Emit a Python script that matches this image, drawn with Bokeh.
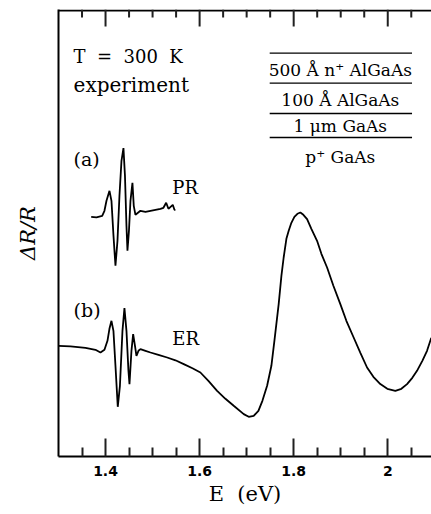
from bokeh.plotting import figure
from bokeh.models import Range1d, FixedTicker, CustomJSTickFormatter, Label
from bokeh.embed import file_html
from bokeh.resources import INLINE

# ---------------- data ----------------
# (b) electroreflectance, E in eV, dR/R in arbitrary units
er_E = [1.300, 1.3255, 1.3574, 1.3786, 1.3892, 1.3977, 1.4041, 1.4083, 1.4126, 1.4168,
        1.4211, 1.4260, 1.4306, 1.4360, 1.4402, 1.4445, 1.4487, 1.4509, 1.4551, 1.4587,
        1.4626, 1.4657, 1.4700, 1.4742, 1.4849, 1.4955, 1.5125, 1.5310, 1.5486, 1.5663,
        1.5848, 1.6017, 1.6187, 1.6372, 1.6549, 1.6725, 1.6938, 1.7044, 1.7150, 1.7250,
        1.7335, 1.7435, 1.7526, 1.7590, 1.7681, 1.7739, 1.7787, 1.7845, 1.7894, 1.7951,
        1.8015, 1.8079, 1.8142, 1.8206, 1.8285, 1.8376, 1.8497, 1.8589, 1.8710, 1.8844,
        1.8992, 1.9120, 1.9275, 1.9418, 1.9560, 1.9694, 1.9842, 1.9991, 2.0161, 2.0289,
        2.0410, 2.0522, 2.0622, 2.0735, 2.0835, 2.0926]
er_R = [1.107, 1.102, 1.087, 1.067, 1.040, 1.067, 1.157, 1.277, 1.357, 1.257,
        0.907, 0.497, 0.707, 1.257, 1.484, 1.257, 0.857, 0.724, 1.057, 1.224,
        1.107, 1.007, 1.057, 1.074, 1.057, 1.040, 1.017, 0.990, 0.962, 0.924,
        0.882, 0.840, 0.757, 0.657, 0.577, 0.507, 0.424, 0.397, 0.407, 0.457,
        0.557, 0.707, 0.907, 1.157, 1.524, 1.807, 1.990, 2.177, 2.257, 2.337,
        2.397, 2.427, 2.440, 2.417, 2.374, 2.277, 2.157, 2.027, 1.890, 1.707,
        1.524, 1.357, 1.190, 1.037, 0.890, 0.797, 0.724, 0.677, 0.657, 0.677,
        0.724, 0.787, 0.857, 0.957, 1.057, 1.187]

# (a) photoreflectance
pr_E = [1.3695, 1.3807, 1.3929, 1.3977, 1.4020, 1.4084, 1.4126, 1.4169, 1.4211, 1.4254,
        1.4296, 1.4339, 1.4381, 1.4413, 1.4445, 1.4466, 1.4498, 1.4530, 1.4572, 1.4600,
        1.4636, 1.4742, 1.4849, 1.4955, 1.5061, 1.5167, 1.5231, 1.5289, 1.5337, 1.5429,
        1.5465, 1.5486]
pr_R = [2.397, 2.392, 2.407, 2.457, 2.557, 2.657, 2.557, 2.207, 1.907, 2.157,
        2.607, 2.957, 3.084, 2.807, 2.307, 2.057, 2.257, 2.557, 2.737, 2.507,
        2.417, 2.457, 2.447, 2.457, 2.467, 2.477, 2.487, 2.537, 2.477, 2.517,
        2.467, 2.467]

major_ticks = [1.4, 1.6, 1.8, 2.0]
minor_ticks = [1.35, 1.45, 1.5, 1.55, 1.65, 1.7, 1.75, 1.85, 1.9, 1.95, 2.05]

layer_labels = ["500 Å n\u207A AlGaAs", "100 Å AlGaAs", "1 μm GaAs", "p\u207A GaAs"]

# ---------------- figure ----------------
X_MIN, X_MAX = 1.3, 2.093
Y_MIN, Y_MAX = 0.0, 4.47
TICK_COLOR = "#202020"
p = figure(width=431, height=514, output_backend="svg", toolbar_location=None,
           x_range=Range1d(X_MIN, X_MAX), y_range=Range1d(Y_MIN, Y_MAX),
           min_border_left=58, min_border_right=0, min_border_top=9, min_border_bottom=58)
p.xgrid.visible = False
p.ygrid.visible = False
p.outline_line_color = None

fmt = CustomJSTickFormatter(code="return String(Math.round(tick*10)/10);")

xa = p.xaxis[0]
xa.ticker = FixedTicker(ticks=major_ticks, minor_ticks=minor_ticks)
xa.formatter = fmt
xa.axis_line_width = 2
xa.axis_line_color = "black"
xa.major_tick_line_color = TICK_COLOR
xa.minor_tick_line_color = TICK_COLOR
xa.major_tick_line_width = 2
xa.minor_tick_line_width = 2
xa.major_tick_in = 18
xa.major_tick_out = 0
xa.minor_tick_in = 9
xa.minor_tick_out = 0
xa.major_label_standoff = 9
xa.major_label_text_font = "DejaVu Sans"
xa.major_label_text_font_style = "bold"
xa.major_label_text_font_size = "14px"
xa.major_label_text_color = "black"
xa.axis_label = "E\u00a0\u00a0(eV)"
xa.axis_label_text_font = "DejaVu Serif"
xa.axis_label_text_font_style = "normal"
xa.axis_label_text_font_size = "21px"
xa.axis_label_standoff = 3
xa.axis_label_text_color = "black"

ya = p.yaxis[0]
ya.ticker = FixedTicker(ticks=[])
ya.axis_line_width = 2
ya.axis_line_color = "black"
ya.major_label_standoff = 0
ya.axis_label = "ΔR/R"
ya.axis_label_text_font = "DejaVu Serif"
ya.axis_label_text_font_style = "italic"
ya.axis_label_text_font_size = "21px"
ya.axis_label_standoff = 19
ya.axis_label_text_color = "black"

# ---------------- top frame line and inward top ticks ----------------
EDGE = 0.01          # ~1 px in data units
MAJ_T, MIN_T = 0.17, 0.08
p.segment(x0=[X_MIN], y0=[Y_MAX - EDGE], x1=[X_MAX], y1=[Y_MAX - EDGE],
          line_color="black", line_width=2)
p.segment(x0=major_ticks, y0=[Y_MAX] * len(major_ticks), x1=major_ticks,
          y1=[Y_MAX - MAJ_T] * len(major_ticks), line_color=TICK_COLOR, line_width=2)
p.segment(x0=minor_ticks, y0=[Y_MAX] * len(minor_ticks), x1=minor_ticks,
          y1=[Y_MAX - MIN_T] * len(minor_ticks), line_color=TICK_COLOR, line_width=2)

# ---------------- curves ----------------
p.line(er_E, er_R, line_color="black", line_width=1.8)
p.line(pr_E, pr_R, line_color="black", line_width=1.8)

# ---------------- annotations ----------------
def lab(x, y, t, size="18px", align="left", font="DejaVu Serif"):
    p.add_layout(Label(x=x, y=y, text=t, text_font=font, text_font_size=size,
                       text_align=align, text_baseline="alphabetic", text_color="black"))

NB = "\u00a0"
lab(1.332, 4.0, "T" + NB * 2 + "=" + NB * 2 + "300" + NB * 2 + "K", "18px")
lab(1.332, 3.72, "experiment", "20px")
lab(1.332, 2.98, "(a)", "19px")
lab(1.542, 2.69, "PR", "18px")
lab(1.332, 1.47, "(b)", "19px")
lab(1.542, 1.18, "ER", "18px")

# layer stack box
box_x0, box_x1 = 1.749, 2.0516
box_lines_y = [4.034, 3.734, 3.430, 3.190]
p.segment(x0=[box_x0] * 4, y0=box_lines_y, x1=[box_x1] * 4, y1=box_lines_y,
          line_color="black", line_width=1.3)
box_cx = 1.8992
box_text_y = [3.865, 3.565, 3.31, 2.995]
for t, yy in zip(layer_labels, box_text_y):
    lab(box_cx, yy, t, "17px", align="center")

open("out.html", "w").write(file_html(p, INLINE))
